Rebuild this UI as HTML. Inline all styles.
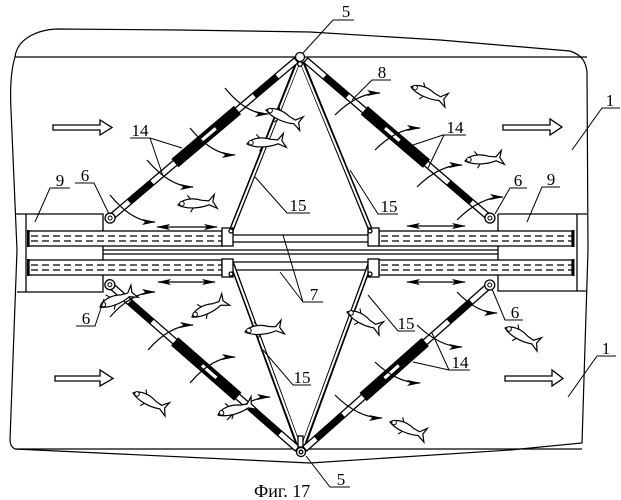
<!DOCTYPE html>
<html><head><meta charset="utf-8"><style>
html,body{margin:0;padding:0;background:#fff;}
svg{display:block;}
text{font-family:"Liberation Serif","DejaVu Serif",serif;font-size:17px;fill:#000;}
</style></head><body>
<svg width="621" height="500" viewBox="0 0 621 500" xmlns="http://www.w3.org/2000/svg">
<defs>
<marker id="ah" markerWidth="16" markerHeight="8" refX="13" refY="3" orient="auto" markerUnits="userSpaceOnUse">
<path d="M0,0 L14,3 L0,6 L3,3 Z" fill="#000"/></marker>
<marker id="da" markerWidth="16" markerHeight="8" refX="13" refY="3" orient="auto-start-reverse" markerUnits="userSpaceOnUse">
<path d="M0,0 L14,3 L0,6 L3,3 Z" fill="#000"/></marker>
<g id="fish">
<path d="M0,0 C4,-5 14,-7 24,-3 L31,-2 L37,-8 L35,-1 L39,6 L31,2 C22,5 8,5 0,0 Z" fill="#fff" stroke="#000" stroke-width="1.2"/>
<circle cx="4" cy="-1" r="2.3" fill="#fff" stroke="#000" stroke-width="1"/>
<path d="M13,-5 L10,-9 M15,4 L12,8" stroke="#000" stroke-width="1.1" fill="none"/>
</g>
</defs>
<rect width="621" height="500" fill="#fff"/>

<!-- outer frame -->
<path d="M15,57 C17,40 35,30 57,29 L180,30 L310,32 L440,40 L570,51 C582,55 586,62 587,72 L588,250 L582,443 L510,450 L310,463 L15,449 C11,447 10,444 10,440 L17,250 L11,110 C10,90 11,70 15,57 Z" fill="none" stroke="#000" stroke-width="1.2"/>
<line x1="15" y1="57" x2="587" y2="57" stroke="#000" stroke-width="1.3"/>
<line x1="15" y1="449" x2="582" y2="449" stroke="#000" stroke-width="1.3"/>

<g stroke="#000" stroke-width="1.3" fill="none">
<!-- boxes 9 -->
<path d="M15,214 H103 V292 H17 M26,214 V292"/>
<path d="M498,214 H587 M498,214 V291 H587 M577,214 V291"/>
<!-- centre lines -->
<line x1="103" y1="250" x2="498" y2="250"/>
<line x1="103" y1="254" x2="498" y2="254"/>
<!-- rods 7 -->
<line x1="233" y1="235" x2="368" y2="235"/>
<line x1="233" y1="242" x2="368" y2="242"/>
<line x1="233" y1="262" x2="368" y2="262"/>
<line x1="233" y1="270" x2="368" y2="270"/>
<!-- tubes -->
<rect x="29" y="231" width="193" height="15" fill="#fff"/>
<rect x="29" y="260" width="193" height="15" fill="#fff"/>
<rect x="379" y="231" width="193" height="15" fill="#fff"/>
<rect x="379" y="260" width="193" height="15" fill="#fff"/>
</g>
<g stroke="#000" stroke-width="1.2" stroke-dasharray="7,4" fill="none">
<line x1="31" y1="236" x2="222" y2="236"/><line x1="31" y1="241" x2="222" y2="241"/>
<line x1="31" y1="265" x2="222" y2="265"/><line x1="31" y1="270" x2="222" y2="270"/>
<line x1="381" y1="236" x2="572" y2="236"/><line x1="381" y1="241" x2="572" y2="241"/>
<line x1="381" y1="265" x2="572" y2="265"/><line x1="381" y1="270" x2="572" y2="270"/>
</g>
<g fill="#000">
<rect x="27" y="230" width="2.5" height="17"/><rect x="27" y="259" width="2.5" height="17"/>
<rect x="572" y="230" width="2.5" height="17"/><rect x="572" y="259" width="2.5" height="17"/>
</g>

<!-- struts 15 -->
<g stroke-linecap="butt">
<g stroke="#000" stroke-width="4.8">
<line x1="298" y1="62" x2="231" y2="231"/><line x1="302" y1="62" x2="371" y2="231"/>
<line x1="231" y1="261" x2="299" y2="447"/><line x1="371" y1="261" x2="303" y2="447"/>
</g>
<g stroke="#fff" stroke-width="2">
<line x1="298" y1="64" x2="231" y2="231"/><line x1="302" y1="64" x2="371" y2="231"/>
<line x1="231" y1="261" x2="299" y2="445"/><line x1="371" y1="261" x2="303" y2="445"/>
</g>
</g>
<!-- sliders -->
<g stroke="#000" stroke-width="1.3" fill="#fff">
<rect x="222" y="228" width="11" height="18"/><rect x="368" y="228" width="11" height="18"/>
<rect x="222" y="259" width="11" height="18"/><rect x="368" y="259" width="11" height="18"/>
<circle cx="231" cy="231" r="2"/><circle cx="370" cy="231" r="2"/>
<circle cx="231" cy="274" r="2"/><circle cx="370" cy="274" r="2"/>
</g>

<!-- beams -->
<g transform="translate(300,57) rotate(139.7)">
<rect x="5" y="-3" width="244" height="6" fill="#fff" stroke="#000" stroke-width="1.3"/>
<rect x="30" y="-3" width="30" height="6"/>
<rect x="82" y="-5.5" width="82" height="11"/>
<rect x="110" y="-2" width="20" height="4" fill="#fff" stroke="#000" stroke-width="0.8"/>
<rect x="194" y="-3" width="30" height="6"/>
<circle cx="249" cy="0" r="5" fill="#fff" stroke="#000" stroke-width="1.3"/><circle cx="249" cy="0" r="2" fill="none" stroke="#000"/>
</g>
<g transform="translate(302,57) rotate(40.6)">
<rect x="5" y="-3" width="242.5" height="6" fill="#fff" stroke="#000" stroke-width="1.3"/>
<rect x="30" y="-3" width="30" height="6"/>
<rect x="82" y="-5.5" width="82" height="11"/>
<rect x="109" y="-2" width="20" height="4" fill="#fff" stroke="#000" stroke-width="0.8"/>
<rect x="193" y="-3" width="30" height="6"/>
<circle cx="247.5" cy="0" r="5" fill="#fff" stroke="#000" stroke-width="1.3"/><circle cx="247.5" cy="0" r="2" fill="none" stroke="#000"/>
</g>
<g transform="translate(301,452) rotate(-138.8)">
<rect x="5" y="-3" width="249" height="6" fill="#fff" stroke="#000" stroke-width="1.3"/>
<rect x="28" y="-3" width="40" height="6"/>
<rect x="84" y="-5.5" width="84" height="11"/>
<rect x="112" y="-2" width="20" height="4" fill="#fff" stroke="#000" stroke-width="0.8"/>
<rect x="198" y="-3" width="30" height="6"/>
<circle cx="254" cy="0" r="5" fill="#fff" stroke="#000" stroke-width="1.3"/><circle cx="254" cy="0" r="2" fill="none" stroke="#000"/>
</g>
<g transform="translate(301,452) rotate(-41.5)">
<rect x="5" y="-3" width="247" height="6" fill="#fff" stroke="#000" stroke-width="1.3"/>
<rect x="20" y="-3" width="36" height="6"/>
<rect x="83" y="-5.5" width="83" height="11"/>
<rect x="111" y="-2" width="20" height="4" fill="#fff" stroke="#000" stroke-width="0.8"/>
<rect x="197" y="-3" width="30" height="6"/>
<circle cx="252" cy="0" r="5" fill="#fff" stroke="#000" stroke-width="1.3"/><circle cx="252" cy="0" r="2" fill="none" stroke="#000"/>
</g>

<!-- apex nodes 5 -->
<g stroke="#000" stroke-width="1.3" fill="#fff">
<circle cx="300" cy="57" r="4.5"/><circle cx="300" cy="64" r="2.3"/>
<rect x="298" y="436" width="5" height="11"/>
<circle cx="301" cy="452" r="4.5"/><circle cx="301" cy="452" r="1.8"/>
</g>

<!-- hollow flow arrows -->
<g fill="#fff" stroke="#000" stroke-width="1.3">
<path d="M53,125 H100 V120 L112,127.5 L100,135 V130 H53 Z"/>
<path d="M503,125 H550 V119 L562,127 L550,135 V130 H503 Z"/>
<path d="M55,376 H100 V370 L113,378.5 L100,386 V381 H55 Z"/>
<path d="M505,376 H552 V370 L563,378.5 L552,386 V381 H505 Z"/>
</g>

<!-- double arrows -->
<g stroke="#000" stroke-width="1.3" marker-start="url(#da)" marker-end="url(#da)">
<line x1="157" y1="227" x2="217" y2="227"/>
<line x1="158" y1="282" x2="215" y2="282"/>
<line x1="407" y1="226" x2="465" y2="226"/>
<line x1="407" y1="282" x2="465" y2="282"/>
</g>

<!-- curved flow arrows -->
<g stroke="#000" stroke-width="1.2" fill="none" marker-end="url(#ah)">
<path d="M225,88 Q246,114 268,114"/>
<path d="M190,128 Q212,155 235,155"/>
<path d="M147,160 Q170,187 193,187"/>
<path d="M110,195 Q132,222 155,222"/>
<path d="M335,115 Q357,93 380,93"/>
<path d="M375,150 Q397,128 420,128"/>
<path d="M417,187 Q439,165 462,165"/>
<path d="M457,220 Q480,197 503,197"/>
<path d="M110,317 Q132,292 155,292"/>
<path d="M148,350 Q170,325 193,325"/>
<path d="M190,383 Q212,357 235,357"/>
<path d="M227,420 Q248,397 270,397"/>
<path d="M457,292 Q477,313 497,313"/>
<path d="M417,325 Q440,347 462,347"/>
<path d="M375,362 Q397,383 420,383"/>
<path d="M335,395 Q358,418 382,418"/>
</g>

<!-- fish -->
<use href="#fish" transform="translate(266,110) rotate(22.6)"/>
<use href="#fish" transform="translate(247,144) rotate(-4)"/>
<use href="#fish" transform="translate(178,205) rotate(-4)"/>
<use href="#fish" transform="translate(411,87) rotate(22)"/>
<use href="#fish" transform="translate(465,161) rotate(-4)"/>
<use href="#fish" transform="translate(192,317) rotate(-26)"/>
<use href="#fish" transform="translate(245,332) rotate(-6)"/>
<use href="#fish" transform="translate(133,393) rotate(27)"/>
<use href="#fish" transform="translate(218,415) rotate(-17)"/>
<use href="#fish" transform="translate(100,307) rotate(-23)"/>
<use href="#fish" transform="translate(347,312) rotate(27)"/>
<use href="#fish" transform="translate(505,328) rotate(27)"/>
<use href="#fish" transform="translate(390,422) rotate(22)"/>

<!-- leaders -->
<g stroke="#000" stroke-width="1" fill="none">
<path d="M354,20 H333 L303,53"/>
<path d="M391,80 H372 L352,100"/>
<path d="M466,135 H443 L410,146 M444,135 L428,168"/>
<path d="M130,138 H150 L182,148 M150,138 L163,176"/>
<path d="M75,183 H94 L109,214"/>
<path d="M70,188 H50 L35,222"/>
<path d="M310,213 H287 L255,177"/>
<path d="M398,214 H378 L350,170"/>
<path d="M527,188 H510 L495,214"/>
<path d="M560,187 H542 L527,222"/>
<path d="M620,108 H602 L572,150"/>
<path d="M323,302 H303 L283,235 M303,302 L280,272"/>
<path d="M76,326 H95 L104,299"/>
<path d="M311,385 H293 L263,350"/>
<path d="M415,331 H398 L368,295"/>
<path d="M470,370 H449 L413,362 M449,370 L432,333"/>
<path d="M523,320 H505 L492,289"/>
<path d="M616,356 H597 L568,397"/>
<path d="M350,487 H330 L306,456"/>
</g>

<!-- labels -->
<g text-anchor="middle">
<text x="346" y="17">5</text>
<text x="382" y="78">8</text>
<text x="455" y="133">14</text>
<text x="140" y="136">14</text>
<text x="85" y="181">6</text>
<text x="60" y="186">9</text>
<text x="298" y="211">15</text>
<text x="389" y="212">15</text>
<text x="518" y="186">6</text>
<text x="551" y="185">9</text>
<text x="610" y="106">1</text>
<text x="314" y="300">7</text>
<text x="86" y="324">6</text>
<text x="302" y="383">15</text>
<text x="406" y="329">15</text>
<text x="460" y="368">14</text>
<text x="515" y="318">6</text>
<text x="606" y="354">1</text>
<text x="341" y="485">5</text>
</g>
<text x="254" y="497" style="font-size:18px">Фиг. 17</text>
</svg>
</body></html>
